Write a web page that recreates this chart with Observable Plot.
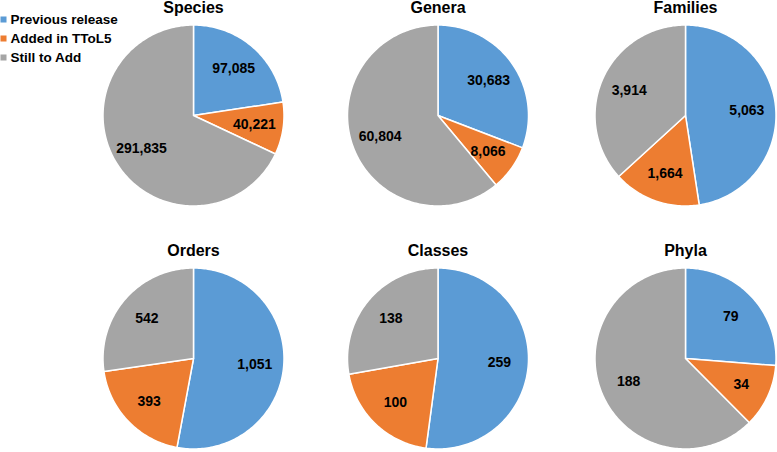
<!DOCTYPE html>
<html>
<head>
<meta charset="utf-8">
<script src="https://cdn.jsdelivr.net/npm/d3@7"></script>
<script src="https://cdn.jsdelivr.net/npm/@observablehq/plot@0.6"></script>
<style>
  body { margin: 0; background: #fff; }
</style>
</head>
<body>
<div id="chart"></div>
<script>
// ---- data ----
const groups = ["Species", "Genera", "Families", "Orders", "Classes", "Phyla"];
const previousRelease = [97085, 30683, 5063, 1051, 259, 79];
const addedInTToL5 = [40221, 8066, 1664, 393, 100, 34];
const stillToAdd = [291835, 60804, 3914, 542, 138, 188];
const seriesNames = ["Previous release", "Added in TToL5", "Still to Add"];
const seriesColors = ["#5B9BD5", "#ED7D31", "#A5A5A5"];

// ---- layout ----
const W = 777, H = 452;
const colCenters = [193, 437.5, 685];
const rowCenters = [115, 358];
const R = 90.5;
const labelFrac = 0.68;

const fmt = d3.format(",");
const slicePts = [];
const labels = [];
const titles = [];
groups.forEach((g, i) => {
  const cx = colCenters[i % 3], cy = rowCenters[Math.floor(i / 3)];
  const vals = [previousRelease[i], addedInTToL5[i], stillToAdd[i]];
  const arcs = d3.pie().sort(null)(vals);
  arcs.forEach((a, j) => {
    const key = g + "-" + j;
    const s = seriesNames[j];
    slicePts.push({key, series: s, x: cx, y: cy});
    const n = Math.max(2, Math.ceil((a.endAngle - a.startAngle) / 0.02));
    for (let k = 0; k <= n; k++) {
      const ang = a.startAngle + (a.endAngle - a.startAngle) * k / n;
      slicePts.push({key, series: s, x: cx + R * Math.sin(ang), y: cy - R * Math.cos(ang)});
    }
    const mid = (a.startAngle + a.endAngle) / 2;
    labels.push({x: cx + R * labelFrac * Math.sin(mid), y: cy - R * labelFrac * Math.cos(mid), text: fmt(vals[j])});
  });
  titles.push({x: cx, y: cy - R - 17, text: g});
});

const legend = seriesNames.map((s, i) => ({series: s, x: 3, y: 19 + i * 19}));

const chart = Plot.plot({
  width: W,
  height: H,
  margin: 0,
  x: {domain: [0, W], range: [0, W], axis: null},
  y: {domain: [0, H], range: [0, H], axis: null},
  color: {domain: seriesNames, range: seriesColors},
  style: {fontFamily: "'Liberation Sans', Arial, sans-serif", background: "#fff"},
  marks: [
    Plot.line(slicePts, {x: "x", y: "y", z: "key", fill: "series", stroke: "white", strokeWidth: 1.5, curve: "linear-closed"}),
    Plot.text(labels, {x: "x", y: "y", text: "text", fontSize: 14, fontWeight: "bold", fill: "black"}),
    Plot.text(titles, {x: "x", y: "y", text: "text", fontSize: 16, fontWeight: "bold", fill: "black"}),
    Plot.dot(legend, {x: "x", y: "y", fill: "series", symbol: "square", r: 3.4, stroke: null}),
    Plot.text(legend, {x: d => d.x + 7, y: "y", text: "series", textAnchor: "start", fontSize: 13.5, fontWeight: "bold", fill: "black"})
  ]
});
document.getElementById("chart").append(chart);
</script>
</body>
</html>
